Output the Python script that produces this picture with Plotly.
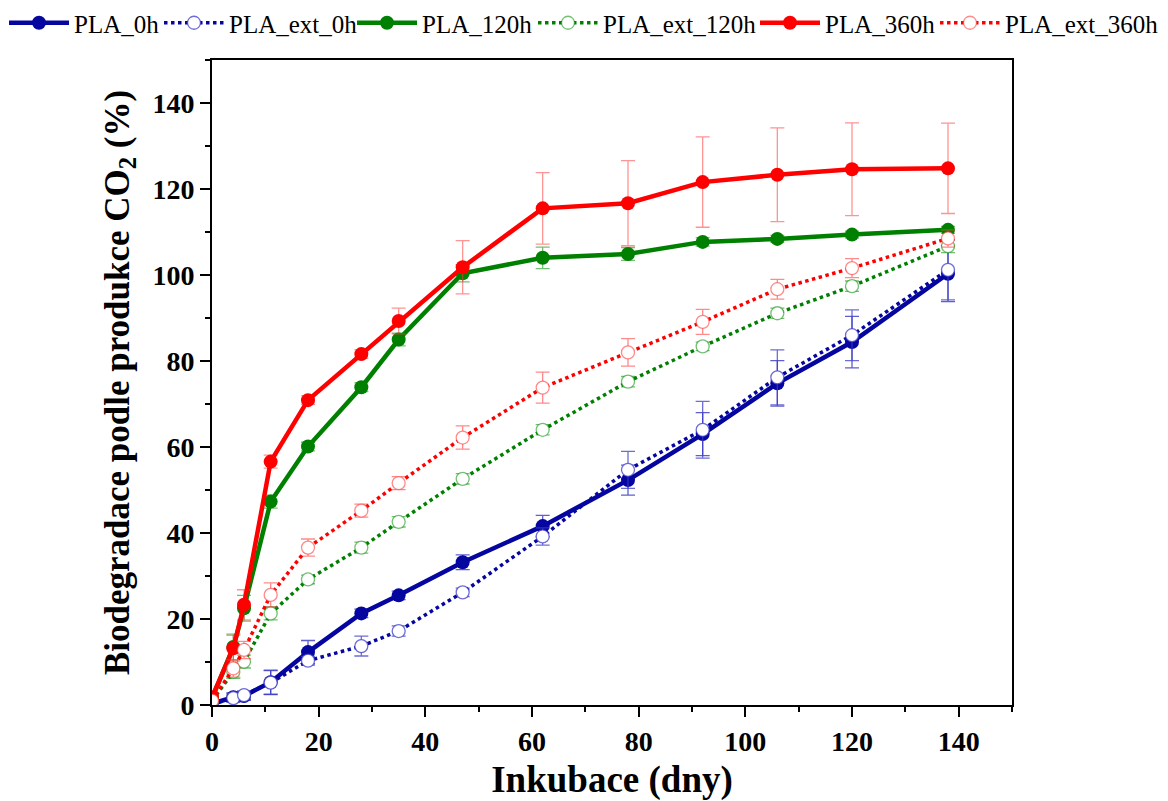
import plotly.graph_objects as go

days = [0, 4, 6, 11, 18, 28, 35, 47, 62, 78, 92, 106, 120, 138]

pla_0h = [0.3, 1.8, 2.1, 5.3, 12.3, 21.3, 25.5, 33.2, 41.6, 52.3, 63.0, 74.8, 84.4, 100.3]
pla_0h_err = [0, 1.0, 1.0, 2.8, 2.7, 1.0, 1.0, 1.7, 2.5, 3.5, 5.0, 5.3, 6.0, 6.5]
pla_ext_0h = [0.2, 1.6, 2.3, 5.2, 10.3, 13.7, 17.2, 26.2, 39.2, 54.7, 64.0, 76.2, 86.0, 101.2]
pla_ext_0h_err = [0, 1.0, 1.0, 2.8, 1.0, 2.3, 1.2, 1.0, 2.0, 4.3, 6.6, 6.4, 5.9, 7.0]
pla_120h = [1.5, 13.5, 22.5, 47.3, 60.1, 73.9, 85.0, 100.4, 104.0, 104.9, 107.7, 108.4, 109.4, 110.5]
pla_120h_err = [0, 3.0, 3.0, 1.5, 1.0, 1.0, 1.5, 2.0, 2.5, 1.5, 1.0, 0.8, 0.8, 0.8]
pla_ext_120h = [1.0, 7.7, 10.1, 21.3, 29.2, 36.6, 42.6, 52.6, 64.0, 75.2, 83.4, 91.1, 97.4, 106.7]
pla_ext_120h_err = [0, 1.5, 1.5, 1.5, 1.0, 1.3, 1.2, 1.2, 1.2, 1.2, 1.0, 1.2, 1.2, 1.5]
pla_360h = [1.8, 13.2, 23.3, 56.6, 70.9, 81.6, 89.3, 101.8, 115.5, 116.7, 121.6, 123.3, 124.6, 124.8]
pla_360h_err = [0, 3.0, 3.5, 1.5, 1.0, 1.0, 3.0, 6.2, 8.3, 9.9, 10.5, 10.9, 10.8, 10.5]
pla_ext_360h = [1.0, 8.5, 12.8, 25.6, 36.6, 45.2, 51.6, 62.2, 73.8, 82.0, 89.1, 96.7, 101.6, 108.5]
pla_ext_360h_err = [0, 2.0, 2.0, 2.8, 2.0, 1.5, 1.5, 2.7, 3.6, 3.2, 2.9, 2.3, 2.2, 2.0]

x_ticks = [0, 20, 40, 60, 80, 100, 120, 140]
y_ticks = [0, 20, 40, 60, 80, 100, 120, 140]

series = [
    ("PLA_0h", pla_0h, pla_0h_err, "#0505A0", "rgba(40,40,190,0.75)", False),
    ("PLA_ext_0h", pla_ext_0h, pla_ext_0h_err, "#0505A0", "rgba(60,60,200,0.75)", True),
    ("PLA_120h", pla_120h, pla_120h_err, "#008000", "rgba(0,140,0,0.55)", False),
    ("PLA_ext_120h", pla_ext_120h, pla_ext_120h_err, "#008000", "rgba(0,140,0,0.55)", True),
    ("PLA_360h", pla_360h, pla_360h_err, "#FF0000", "rgba(255,60,60,0.55)", False),
    ("PLA_ext_360h", pla_ext_360h, pla_ext_360h_err, "#FF0000", "rgba(255,60,60,0.6)", True),
]

# left edge (px) of each legend entry along the top row
legend_left_px = [4, 159, 352, 533, 755, 935]

SERIF = "Liberation Serif, Times New Roman, serif"

fig = go.Figure()
legend_layouts = {}
for i, (name, vals, errs, col, ecol, ext) in enumerate(series):
    if ext:
        line = dict(color=col, width=3.5, dash="dot")
        marker = dict(symbol="circle", size=13, color="white", line=dict(color=ecol, width=1.3))
    else:
        line = dict(color=col, width=4.5)
        marker = dict(symbol="circle", size=14, color=col, line=dict(color=col, width=0))
    lname = "legend" if i == 0 else f"legend{i + 1}"
    fig.add_trace(go.Scatter(
        x=days, y=vals, name=name, mode="lines+markers", showlegend=True,
        line=line, marker=marker, legend=lname,
        error_y=dict(type="data", array=errs, visible=True, color=ecol, thickness=1.3, width=7),
    ))
    legend_layouts[lname] = dict(
        orientation="h", xref="container", yref="container",
        x=legend_left_px[i] / 1168, xanchor="left", y=1.0, yanchor="top",
        font=dict(family=SERIF, size=25, color="black"),
        itemwidth=60, bgcolor="rgba(0,0,0,0)",
    )

fig.update_layout(
    width=1168, height=801,
    showlegend=True,
    margin=dict(l=212, r=156, t=60, b=96),
    paper_bgcolor="white", plot_bgcolor="white",
    font=dict(family=SERIF, color="black"),
    xaxis=dict(
        range=[0, 150], tickvals=x_ticks, ticktext=[str(v) for v in x_ticks],
        ticks="outside", ticklen=10, tickwidth=2, tickcolor="black",
        minor=dict(dtick=10, ticks="outside", ticklen=5, tickwidth=2, tickcolor="black"),
        showline=True, linecolor="black", linewidth=2, mirror=True,
        showgrid=False, zeroline=False, automargin=False,
        tickfont=dict(family=SERIF, size=28, color="black", weight="bold"),
        title=dict(text="<b>Inkubace (dny)</b>", font=dict(family=SERIF, size=37, color="black"), standoff=16),
    ),
    yaxis=dict(
        range=[0, 150], tickvals=y_ticks, ticktext=[str(v) for v in y_ticks],
        ticks="outside", ticklen=10, tickwidth=2, tickcolor="black",
        minor=dict(dtick=10, ticks="outside", ticklen=5, tickwidth=2, tickcolor="black"),
        showline=True, linecolor="black", linewidth=2, mirror=True,
        showgrid=False, zeroline=False, automargin=False,
        tickfont=dict(family=SERIF, size=28, color="black", weight="bold"),
        title=dict(text="<b>Biodegradace podle produkce CO<sub>2</sub> (%)</b>", font=dict(family=SERIF, size=35, color="black"), standoff=12),
    ),
    **legend_layouts,
)

fig.write_html("out.html")
